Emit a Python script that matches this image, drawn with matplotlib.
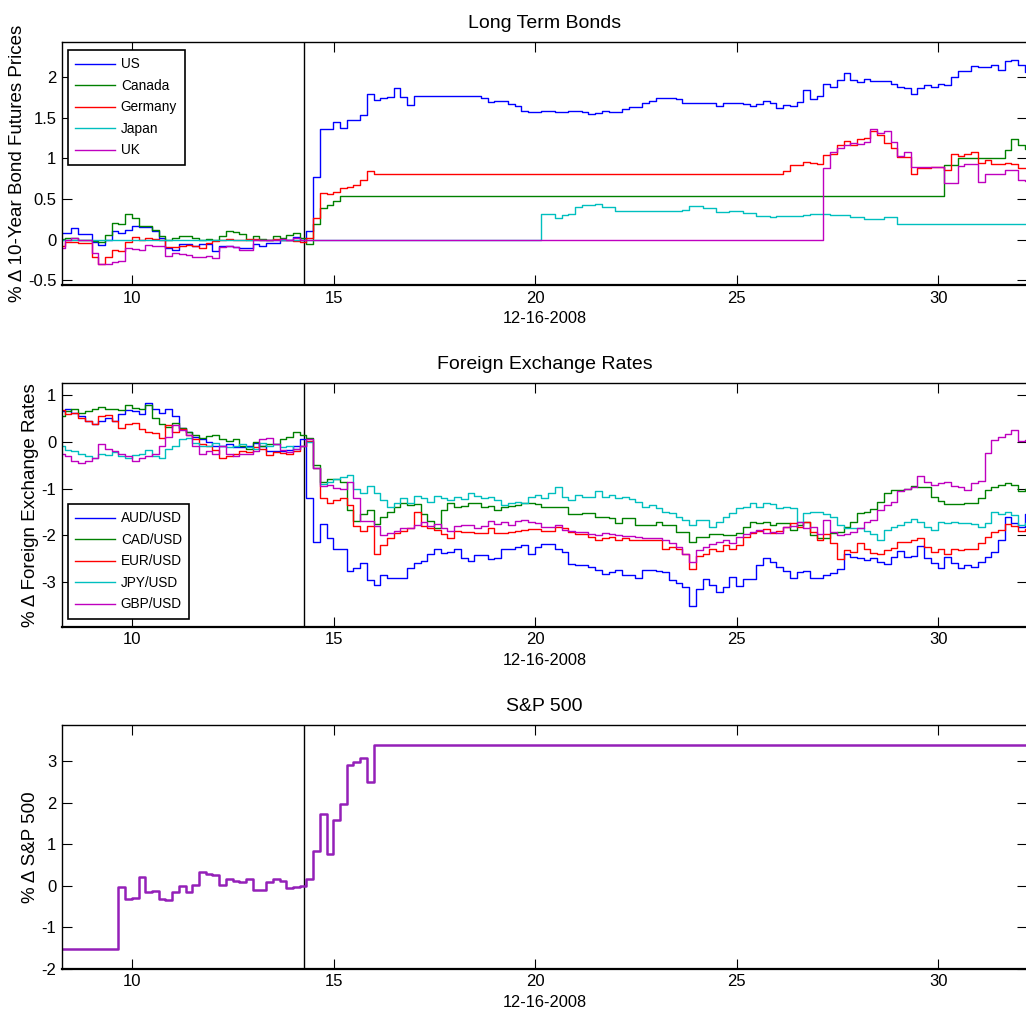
import numpy as np
import matplotlib
matplotlib.use('Agg')
import matplotlib.pyplot as plt

plt.rcParams['font.family'] = ['Liberation Sans', 'DejaVu Sans']
plt.rcParams['axes.unicode_minus'] = False

# 10-minute bars, hours on 12-16-2008
times = 8.15 + np.arange(145) / 6.0
fomc_time = 14.25

bond_labels = ['US', 'Canada', 'Germany', 'Japan', 'UK']
fx_labels = ['AUD/USD', 'CAD/USD', 'EUR/USD', 'JPY/USD', 'GBP/USD']

bond_us = [
    0.08, 0.08, 0.14, 0.07, 0.07, -0.03, -0.07, 0.00, 0.10, 0.08,
    0.12, 0.17, 0.15, 0.15, 0.10, 0.02, -0.10, -0.13, -0.06, -0.06,
    -0.08, -0.05, -0.05, -0.14, -0.08, -0.08, -0.09, -0.11, -0.11, -0.05,
    -0.08, -0.04, -0.04, 0.00, 0.00, 0.03, 0.00, 0.10, 0.77, 1.36,
    1.36, 1.45, 1.37, 1.48, 1.48, 1.54, 1.79, 1.72, 1.74, 1.76,
    1.87, 1.76, 1.66, 1.77, 1.77, 1.77, 1.77, 1.77, 1.77, 1.77,
    1.77, 1.77, 1.77, 1.74, 1.70, 1.71, 1.71, 1.67, 1.65, 1.58,
    1.57, 1.57, 1.58, 1.58, 1.57, 1.57, 1.58, 1.58, 1.57, 1.55,
    1.56, 1.58, 1.57, 1.57, 1.61, 1.63, 1.63, 1.68, 1.71, 1.74,
    1.74, 1.75, 1.73, 1.68, 1.68, 1.68, 1.69, 1.69, 1.65, 1.69,
    1.68, 1.68, 1.67, 1.65, 1.67, 1.71, 1.69, 1.62, 1.66, 1.65,
    1.70, 1.84, 1.73, 1.77, 1.92, 1.88, 1.97, 2.06, 1.97, 1.94,
    1.98, 1.95, 1.95, 1.95, 1.92, 1.88, 1.87, 1.79, 1.87, 1.90,
    1.88, 1.92, 1.91, 2.00, 2.08, 2.08, 2.14, 2.13, 2.13, 2.15,
    2.09, 2.20, 2.21, 2.15, 2.07]

bond_ca = [
    0.01, 0.02, 0.02, 0.00, 0.00, -0.02, -0.03, 0.05, 0.20, 0.19,
    0.31, 0.26, 0.17, 0.17, 0.12, 0.04, 0.00, 0.02, 0.04, 0.04,
    0.02, 0.00, 0.01, 0.00, 0.04, 0.11, 0.09, 0.07, 0.00, 0.04,
    0.01, 0.00, 0.04, 0.02, 0.06, 0.08, 0.02, -0.05, 0.19, 0.39,
    0.43, 0.47, 0.54, 0.54, 0.54, 0.54, 0.54, 0.54, 0.54, 0.54,
    0.54, 0.54, 0.54, 0.54, 0.54, 0.54, 0.54, 0.54, 0.54, 0.54,
    0.54, 0.54, 0.54, 0.54, 0.54, 0.54, 0.54, 0.54, 0.54, 0.54,
    0.54, 0.54, 0.54, 0.54, 0.54, 0.54, 0.54, 0.54, 0.54, 0.54,
    0.54, 0.54, 0.54, 0.54, 0.54, 0.54, 0.54, 0.54, 0.54, 0.54,
    0.54, 0.54, 0.54, 0.54, 0.54, 0.54, 0.54, 0.54, 0.54, 0.54,
    0.54, 0.54, 0.54, 0.54, 0.54, 0.54, 0.54, 0.54, 0.54, 0.54,
    0.54, 0.54, 0.54, 0.54, 0.54, 0.54, 0.54, 0.54, 0.54, 0.54,
    0.54, 0.54, 0.54, 0.54, 0.54, 0.54, 0.54, 0.54, 0.54, 0.54,
    0.54, 0.54, 0.92, 0.92, 1.00, 1.00, 1.00, 1.00, 1.00, 1.00,
    1.00, 1.10, 1.24, 1.17, 1.12]

bond_de = [
    -0.08, -0.03, -0.03, -0.04, -0.04, -0.22, -0.30, -0.21, -0.13, -0.14,
    -0.03, 0.03, 0.00, 0.02, 0.01, 0.00, -0.09, -0.09, -0.08, -0.07,
    -0.08, -0.10, -0.04, -0.02, 0.00, 0.01, 0.00, 0.00, 0.01, 0.01,
    0.00, 0.00, 0.01, 0.00, -0.01, -0.02, -0.03, 0.02, 0.26, 0.58,
    0.56, 0.59, 0.63, 0.65, 0.67, 0.74, 0.84, 0.81, 0.81, 0.81,
    0.81, 0.81, 0.81, 0.81, 0.81, 0.81, 0.81, 0.81, 0.81, 0.81,
    0.81, 0.81, 0.81, 0.81, 0.81, 0.81, 0.81, 0.81, 0.81, 0.81,
    0.81, 0.81, 0.81, 0.81, 0.81, 0.81, 0.81, 0.81, 0.81, 0.81,
    0.81, 0.81, 0.81, 0.81, 0.81, 0.81, 0.81, 0.81, 0.81, 0.81,
    0.81, 0.81, 0.81, 0.81, 0.81, 0.81, 0.81, 0.81, 0.81, 0.81,
    0.81, 0.81, 0.81, 0.81, 0.81, 0.81, 0.81, 0.81, 0.84, 0.92,
    0.92, 0.96, 0.95, 0.93, 1.04, 1.05, 1.16, 1.22, 1.16, 1.24,
    1.25, 1.34, 1.29, 1.19, 1.13, 1.02, 1.02, 0.81, 0.88, 0.88,
    0.90, 0.90, 0.86, 1.06, 1.03, 1.06, 1.08, 0.95, 0.98, 0.93,
    0.93, 0.95, 0.93, 0.88, 0.88]

bond_jp = [
    0.00, 0.00, 0.00, 0.00, 0.00, 0.00, 0.00, 0.00, 0.00, 0.00,
    0.00, 0.00, 0.00, 0.00, 0.00, 0.00, 0.00, 0.00, 0.00, 0.00,
    0.00, 0.00, 0.00, 0.00, 0.00, 0.00, 0.00, 0.00, 0.00, 0.00,
    0.00, 0.00, 0.00, 0.00, 0.00, 0.00, 0.00, 0.00, 0.00, 0.00,
    0.00, 0.00, 0.00, 0.00, 0.00, 0.00, 0.00, 0.00, 0.00, 0.00,
    0.00, 0.00, 0.00, 0.00, 0.00, 0.00, 0.00, 0.00, 0.00, 0.00,
    0.00, 0.00, 0.00, 0.00, 0.00, 0.00, 0.00, 0.00, 0.00, 0.00,
    0.00, 0.00, 0.32, 0.32, 0.26, 0.30, 0.31, 0.40, 0.42, 0.42,
    0.44, 0.40, 0.40, 0.35, 0.35, 0.35, 0.35, 0.35, 0.35, 0.35,
    0.35, 0.35, 0.35, 0.36, 0.41, 0.41, 0.39, 0.39, 0.34, 0.34,
    0.35, 0.35, 0.33, 0.33, 0.29, 0.29, 0.28, 0.29, 0.29, 0.29,
    0.29, 0.30, 0.32, 0.32, 0.32, 0.30, 0.30, 0.30, 0.28, 0.28,
    0.25, 0.25, 0.25, 0.28, 0.28, 0.19, 0.19, 0.19, 0.19, 0.19,
    0.19, 0.19, 0.19, 0.19, 0.19, 0.19, 0.19, 0.19, 0.19, 0.19,
    0.19, 0.19, 0.19, 0.19, 0.19]

bond_uk = [
    -0.10, -0.01, 0.02, 0.00, 0.00, -0.16, -0.30, -0.30, -0.28, -0.26,
    -0.10, -0.12, -0.13, -0.07, -0.08, -0.08, -0.20, -0.16, -0.18, -0.19,
    -0.21, -0.21, -0.20, -0.23, -0.09, -0.08, -0.09, -0.13, -0.13, -0.01,
    -0.01, 0.00, 0.00, 0.01, 0.00, 0.02, 0.00, 0.00, 0.00, 0.00,
    0.00, 0.00, 0.00, 0.00, 0.00, 0.00, 0.00, 0.00, 0.00, 0.00,
    0.00, 0.00, 0.00, 0.00, 0.00, 0.00, 0.00, 0.00, 0.00, 0.00,
    0.00, 0.00, 0.00, 0.00, 0.00, 0.00, 0.00, 0.00, 0.00, 0.00,
    0.00, 0.00, 0.00, 0.00, 0.00, 0.00, 0.00, 0.00, 0.00, 0.00,
    0.00, 0.00, 0.00, 0.00, 0.00, 0.00, 0.00, 0.00, 0.00, 0.00,
    0.00, 0.00, 0.00, 0.00, 0.00, 0.00, 0.00, 0.00, 0.00, 0.00,
    0.00, 0.00, 0.00, 0.00, 0.00, 0.00, 0.00, 0.00, 0.00, 0.00,
    0.00, 0.00, 0.00, 0.00, 0.88, 1.08, 1.13, 1.16, 1.19, 1.18,
    1.20, 1.36, 1.32, 1.34, 1.20, 1.03, 1.08, 0.90, 0.89, 0.89,
    0.89, 0.89, 0.70, 0.70, 0.91, 0.93, 0.93, 0.71, 0.81, 0.81,
    0.81, 0.86, 0.86, 0.74, 0.72]

fx_aud = [
    0.65, 0.70, 0.62, 0.55, 0.45, 0.38, 0.45, 0.50, 0.45, 0.60,
    0.68, 0.65, 0.60, 0.82, 0.70, 0.62, 0.70, 0.55, 0.30, 0.22,
    0.10, 0.05, 0.00, -0.10, -0.10, -0.05, -0.12, -0.12, -0.10, -0.02,
    -0.10, -0.20, -0.20, -0.20, -0.18, -0.10, 0.05, -1.20, -2.15, -1.75,
    -2.05, -2.30, -2.30, -2.75, -2.70, -2.60, -2.95, -3.05, -2.85, -2.92,
    -2.92, -2.92, -2.70, -2.60, -2.55, -2.40, -2.30, -2.38, -2.35, -2.30,
    -2.48, -2.55, -2.42, -2.42, -2.50, -2.48, -2.30, -2.28, -2.25, -2.21,
    -2.39, -2.24, -2.19, -2.19, -2.28, -2.35, -2.61, -2.64, -2.64, -2.67,
    -2.74, -2.83, -2.78, -2.74, -2.85, -2.85, -2.92, -2.74, -2.74, -2.76,
    -2.78, -2.96, -3.01, -3.10, -3.51, -3.15, -2.94, -3.06, -3.21, -3.10,
    -2.89, -3.09, -2.94, -2.94, -2.64, -2.48, -2.56, -2.67, -2.76, -2.90,
    -2.78, -2.76, -2.90, -2.90, -2.85, -2.81, -2.71, -2.39, -2.46, -2.49,
    -2.53, -2.49, -2.56, -2.61, -2.46, -2.33, -2.46, -2.44, -2.23, -2.49,
    -2.59, -2.69, -2.46, -2.59, -2.69, -2.64, -2.67, -2.56, -2.46, -2.35,
    -2.10, -1.60, -1.74, -1.81, -1.54]

fx_cad = [
    0.55, 0.65, 0.70, 0.62, 0.65, 0.70, 0.75, 0.70, 0.70, 0.68,
    0.78, 0.72, 0.70, 0.78, 0.50, 0.38, 0.32, 0.40, 0.30, 0.20,
    0.15, 0.08, 0.12, 0.15, 0.05, 0.02, 0.05, -0.10, -0.15, 0.00,
    -0.10, -0.05, -0.05, 0.05, 0.10, 0.22, 0.15, 0.08, -0.50, -0.85,
    -0.80, -0.80, -0.85, -1.45, -1.70, -1.55, -1.45, -1.75, -1.60, -1.50,
    -1.40, -1.30, -1.35, -1.32, -1.55, -1.70, -1.85, -1.45, -1.30, -1.40,
    -1.38, -1.30, -1.30, -1.40, -1.38, -1.45, -1.40, -1.38, -1.35, -1.31,
    -1.31, -1.33, -1.39, -1.39, -1.39, -1.39, -1.54, -1.54, -1.53, -1.53,
    -1.60, -1.60, -1.63, -1.74, -1.63, -1.63, -1.78, -1.78, -1.78, -1.71,
    -1.78, -1.78, -1.92, -1.92, -2.14, -2.04, -2.04, -1.96, -1.96, -2.00,
    -2.00, -1.94, -1.83, -1.71, -1.74, -1.71, -1.78, -1.73, -1.73, -1.89,
    -1.78, -1.71, -1.99, -2.06, -2.06, -1.94, -1.92, -1.81, -1.71, -1.53,
    -1.49, -1.44, -1.28, -1.10, -1.03, -1.03, -1.00, -0.94, -0.96, -0.96,
    -1.17, -1.26, -1.33, -1.33, -1.33, -1.30, -1.30, -1.21, -1.03, -0.96,
    -0.92, -0.87, -0.92, -1.06, -1.00]

fx_eur = [
    0.68, 0.60, 0.62, 0.50, 0.45, 0.38, 0.55, 0.58, 0.45, 0.30,
    0.38, 0.40, 0.28, 0.22, 0.18, 0.08, 0.35, 0.20, 0.28, 0.15,
    0.05, -0.05, -0.10, -0.18, -0.35, -0.30, -0.25, -0.20, -0.22, -0.12,
    -0.15, -0.28, -0.22, -0.24, -0.25, -0.20, -0.10, 0.02, -0.55, -1.20,
    -1.30, -1.25, -1.20, -1.35, -1.80, -1.90, -1.80, -2.40, -2.20, -2.05,
    -1.95, -1.90, -1.85, -1.50, -1.80, -1.85, -1.88, -1.98, -2.05, -1.90,
    -1.92, -1.92, -1.95, -1.95, -1.85, -1.95, -1.95, -1.92, -1.90, -1.89,
    -1.87, -1.87, -1.90, -1.90, -1.81, -1.85, -1.92, -1.96, -1.96, -2.04,
    -2.10, -2.06, -2.04, -2.10, -2.06, -2.10, -2.10, -2.09, -2.09, -2.10,
    -2.28, -2.24, -2.30, -2.39, -2.71, -2.45, -2.39, -2.28, -2.33, -2.21,
    -2.28, -2.21, -2.03, -1.94, -1.90, -1.87, -1.94, -1.90, -1.81, -1.73,
    -1.81, -1.71, -1.92, -2.09, -1.96, -2.16, -2.51, -2.31, -2.35, -2.17,
    -2.28, -2.37, -2.39, -2.31, -2.26, -2.14, -2.14, -2.10, -2.06, -2.24,
    -2.35, -2.30, -2.39, -2.28, -2.31, -2.28, -2.28, -2.17, -2.03, -1.92,
    -1.89, -1.76, -1.80, -1.90, -1.87]

fx_jpy = [
    -0.10, -0.18, -0.20, -0.25, -0.30, -0.35, -0.25, -0.28, -0.22, -0.30,
    -0.35, -0.28, -0.25, -0.18, -0.30, -0.35, -0.15, -0.10, 0.05, 0.08,
    -0.02, -0.10, -0.08, -0.02, -0.08, -0.12, -0.10, -0.05, -0.12, -0.15,
    -0.02, -0.10, -0.05, -0.12, -0.08, -0.15, -0.08, 0.00, -0.55, -0.90,
    -0.85, -0.80, -0.75, -0.70, -1.00, -1.10, -0.95, -1.10, -1.25, -1.40,
    -1.30, -1.20, -1.30, -1.15, -1.20, -1.28, -1.15, -1.20, -1.25, -1.18,
    -1.22, -1.10, -1.15, -1.20, -1.18, -1.25, -1.35, -1.30, -1.28, -1.31,
    -1.17, -1.13, -1.21, -1.10, -0.96, -1.17, -1.24, -1.13, -1.17, -1.17,
    -1.06, -1.17, -1.13, -1.19, -1.17, -1.23, -1.28, -1.39, -1.35, -1.42,
    -1.49, -1.53, -1.60, -1.67, -1.78, -1.67, -1.67, -1.81, -1.71, -1.60,
    -1.53, -1.42, -1.39, -1.31, -1.39, -1.30, -1.33, -1.42, -1.39, -1.42,
    -1.71, -1.53, -1.51, -1.51, -1.54, -1.60, -1.78, -1.85, -1.85, -1.85,
    -1.90, -1.97, -2.09, -1.89, -1.83, -1.78, -1.71, -1.66, -1.71, -1.81,
    -1.89, -1.71, -1.74, -1.71, -1.74, -1.73, -1.76, -1.81, -1.73, -1.51,
    -1.54, -1.49, -1.56, -1.78, -1.74]

fx_gbp = [
    -0.25, -0.30, -0.40, -0.45, -0.40, -0.35, -0.05, -0.15, -0.20, -0.25,
    -0.30, -0.40, -0.35, -0.30, -0.25, -0.10, 0.10, 0.35, 0.25, 0.15,
    -0.10, -0.25, -0.20, -0.25, -0.10, -0.25, -0.30, -0.25, -0.25, -0.20,
    0.05, 0.08, -0.05, -0.18, -0.22, -0.15, -0.10, 0.05, -0.55, -0.95,
    -0.92, -0.98, -1.00, -0.85, -1.20, -1.70, -1.70, -1.80, -2.00, -1.95,
    -1.90, -1.85, -1.85, -1.78, -1.72, -1.80, -1.75, -1.85, -1.90, -1.80,
    -1.78, -1.78, -1.85, -1.80, -1.70, -1.75, -1.72, -1.78, -1.70, -1.67,
    -1.71, -1.74, -1.81, -1.81, -1.78, -1.89, -1.90, -1.92, -1.92, -1.96,
    -2.00, -1.94, -1.97, -2.00, -2.01, -2.01, -2.03, -2.05, -2.05, -2.05,
    -2.10, -2.17, -2.24, -2.39, -2.56, -2.31, -2.24, -2.19, -2.14, -2.10,
    -2.17, -2.04, -1.96, -1.92, -1.89, -1.94, -1.92, -1.94, -1.81, -1.80,
    -1.71, -1.85, -1.81, -1.96, -1.67, -1.92, -2.00, -1.96, -1.92, -1.85,
    -1.71, -1.67, -1.46, -1.35, -1.28, -1.06, -1.01, -0.96, -0.74, -0.85,
    -0.92, -0.89, -0.85, -0.94, -0.96, -1.04, -0.87, -0.83, -0.24, 0.04,
    0.11, 0.17, 0.26, 0.01, 0.04]

spx = [
    -1.53, -1.53, -1.53, -1.53, -1.53, -1.53, -1.53, -1.53, -1.53, -0.03,
    -0.32, -0.30, 0.22, -0.15, -0.12, -0.32, -0.35, -0.15, 0.00, -0.15,
    0.02, 0.32, 0.28, 0.26, 0.02, 0.17, 0.12, 0.08, 0.15, -0.10,
    -0.10, 0.08, 0.17, 0.12, -0.06, -0.03, 0.00, 0.17, 0.83, 1.74,
    0.77, 1.58, 1.96, 2.92, 2.97, 3.08, 2.49, 3.38, 3.38, 3.38,
    3.38, 3.38, 3.38, 3.38, 3.38, 3.38, 3.38, 3.38, 3.38, 3.38,
    3.38, 3.38, 3.38, 3.38, 3.38, 3.38, 3.38, 3.38, 3.38, 3.38,
    3.38, 3.38, 3.38, 3.38, 3.38, 3.38, 3.38, 3.38, 3.38, 3.38,
    3.38, 3.38, 3.38, 3.38, 3.38, 3.38, 3.38, 3.38, 3.38, 3.38,
    3.38, 3.38, 3.38, 3.38, 3.38, 3.38, 3.38, 3.38, 3.38, 3.38,
    3.38, 3.38, 3.38, 3.38, 3.38, 3.38, 3.38, 3.38, 3.38, 3.38,
    3.38, 3.38, 3.38, 3.38, 3.38, 3.38, 3.38, 3.38, 3.38, 3.38,
    3.38, 3.38, 3.38, 3.38, 3.38, 3.38, 3.38, 3.38, 3.38, 3.38,
    3.38, 3.38, 3.38, 3.38, 3.38, 3.38, 3.38, 3.38, 3.38, 3.38,
    3.38, 3.38, 3.38, 3.38, 3.38]

series_colors = ['#0000ff', '#008000', '#ff0000', '#00bfbf', '#bf00bf']
spx_color = '#9420b8'

xticks = [10, 15, 20, 25, 30]
bond_yticks = [-0.5, 0, 0.5, 1, 1.5, 2]
bond_yticklabels = ['-0.5', '0', '0.5', '1', '1.5', '2']
fx_yticks = [-3, -2, -1, 0, 1]
fx_yticklabels = ['-3', '-2', '-1', '0', '1']
spx_yticks = [-2, -1, 0, 1, 2, 3]
spx_yticklabels = ['-2', '-1', '0', '1', '2', '3']


def stairs(ax, vals, **kw):
    t = np.append(times, times[-1] + 1 / 6.0)
    v = np.append(np.asarray(vals, dtype=float), vals[-1])
    return ax.step(t, v, where='post', **kw)


fig = plt.figure(figsize=(10.26, 10.17), dpi=100)
ax1 = fig.add_axes([0.0604, 0.7198, 0.9405, 0.2392])
ax2 = fig.add_axes([0.0604, 0.3838, 0.9405, 0.2393])
ax3 = fig.add_axes([0.0604, 0.0475, 0.9405, 0.2399])


def style(ax, title, ylabel, yticks, yticklabels, ylim):
    ax.set_xlim(8.25, 32.2)
    ax.set_ylim(*ylim)
    ax.set_xticks(xticks)
    ax.set_xticklabels([str(x) for x in xticks])
    ax.set_yticks(yticks)
    ax.set_yticklabels(yticklabels)
    ax.tick_params(direction='in', top=True, right=True, length=7, width=0.8,
                   labelsize=12, pad=4, colors='black')
    for s in ax.spines.values():
        s.set_linewidth(1.0)
        s.set_color('black')
    ax.spines['bottom'].set_linewidth(1.6)
    ax.set_title(title, fontsize=14, pad=10)
    ax.set_xlabel('12-16-2008', fontsize=11.8, labelpad=4)
    ax.set_ylabel(ylabel, fontsize=13.5, labelpad=1.5)
    ax.axvline(fomc_time, color='black', lw=1.0, zorder=1)


leg_kw = dict(borderaxespad=0, fontsize=9.8, handlelength=2.9, labelspacing=0.55,
              handletextpad=0.45, borderpad=0.55, fancybox=False, edgecolor='black',
              framealpha=1)

for vals, lab, c in zip([bond_us, bond_ca, bond_de, bond_jp, bond_uk], bond_labels, series_colors):
    stairs(ax1, vals, color=c, lw=1.0, label=lab)
style(ax1, 'Long Term Bonds', '% \u0394 10-Year Bond Futures Prices',
      bond_yticks, bond_yticklabels, (-0.56, 2.44))
leg1 = ax1.legend(loc='upper left', bbox_to_anchor=(0.006, 0.966), **leg_kw)
leg1.get_frame().set_linewidth(1.2)

for vals, lab, c in zip([fx_aud, fx_cad, fx_eur, fx_jpy, fx_gbp], fx_labels, series_colors):
    stairs(ax2, vals, color=c, lw=1.0, label=lab)
style(ax2, 'Foreign Exchange Rates', '% \u0394 Foreign Exchange Rates',
      fx_yticks, fx_yticklabels, (-3.95, 1.25))
leg2 = ax2.legend(loc='lower left', bbox_to_anchor=(0.006, 0.032), **leg_kw)
leg2.get_frame().set_linewidth(1.2)

stairs(ax3, spx, color=spx_color, lw=1.8)
style(ax3, 'S&P 500', '% \u0394 S&P 500', spx_yticks, spx_yticklabels, (-2.0, 3.88))

fig.savefig('out.png', dpi=100, facecolor='white')
